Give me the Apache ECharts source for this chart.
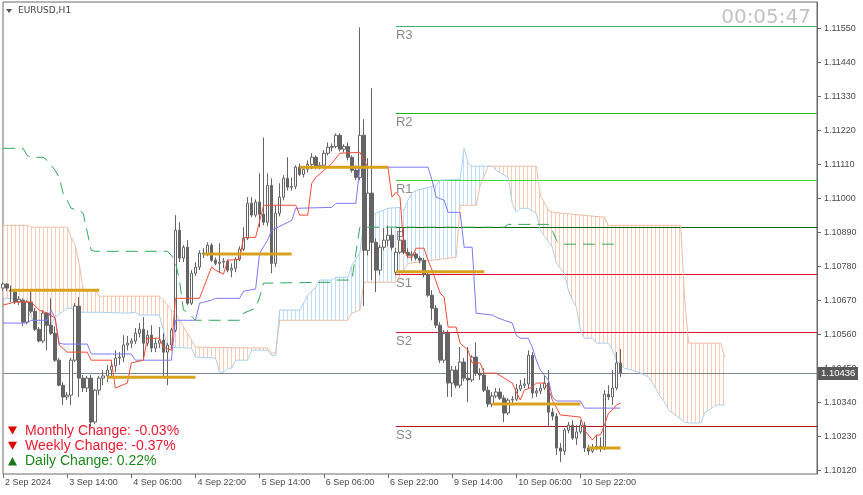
<!DOCTYPE html>
<html><head><meta charset="utf-8">
<script src="https://cdn.jsdelivr.net/npm/echarts@6/dist/echarts.min.js"></script>
<style>html,body{margin:0;padding:0;background:#fff}#c{width:863px;height:495px}</style>
</head><body><div id="c"></div>
<script>
// ---- EURUSD H1 candles (bar 0 = 2 Sep 22:00) ----
const opens = [1.10710,1.10723,1.10703,1.10697,1.10665,1.10671,1.10600,1.10665,1.10635,1.10577,
1.10539,1.10629,1.10590,1.10564,1.10477,1.10396,1.10358,1.10364,1.10477,1.10652,
1.10419,1.10387,1.10419,1.10277,1.10380,1.10419,1.10426,1.10445,1.10458,1.10484,
1.10487,1.10526,1.10532,1.10539,1.10564,1.10577,1.10532,1.10558,1.10516,1.10532,
1.10542,1.10503,1.10526,1.10574,1.10897,1.10807,1.10842,1.10661,1.10758,1.10778,
1.10823,1.10820,1.10849,1.10800,1.10790,1.10794,1.10797,1.10768,1.10774,1.10803,
1.10836,1.10871,1.10984,1.10946,1.10988,1.10949,1.10923,1.11042,1.10790,1.10952,
1.11004,1.11065,1.11036,1.11039,1.11101,1.11078,1.11094,1.11110,1.11133,1.11101,
1.11107,1.11146,1.11165,1.11168,1.11204,1.11159,1.11168,1.11133,1.11091,1.11068,
1.11204,1.10832,1.11017,1.10858,1.10768,1.10842,1.10865,1.10881,1.10761,1.10826,
1.10865,1.10826,1.10816,1.10820,1.10807,1.10800,1.10755,1.10687,1.10645,1.10590,
1.10477,1.10564,1.10403,1.10445,1.10396,1.10471,1.10419,1.10413,1.10487,1.10435,
1.10429,1.10380,1.10335,1.10361,1.10374,1.10354,1.10306,1.10348,1.10351,1.10384,
1.10396,1.10400,1.10493,1.10371,1.10377,1.10387,1.10403,1.10309,1.10296,1.10193,
1.10183,1.10251,1.10267,1.10225,1.10245,1.10267,1.10193,1.10183,1.10196,1.10199,
1.10196,1.10367,1.10358,1.10387,1.10468];
const highs = [1.10729,1.10726,1.10719,1.10707,1.10684,1.10677,1.10671,1.10703,1.10645,1.10584,
1.10639,1.10632,1.10677,1.10587,1.10484,1.10406,1.10374,1.10484,1.10661,1.10681,
1.10429,1.10426,1.10429,1.10384,1.10426,1.10445,1.10461,1.10477,1.10509,1.10503,
1.10558,1.10555,1.10548,1.10581,1.10597,1.10616,1.10574,1.10590,1.10548,1.10584,
1.10564,1.10532,1.10581,1.10946,1.10923,1.10849,1.10865,1.10768,1.10794,1.10832,
1.10839,1.10858,1.10855,1.10810,1.10855,1.10807,1.10803,1.10790,1.10810,1.10845,
1.10907,1.11004,1.11004,1.10997,1.11081,1.11197,1.11081,1.11065,1.10978,1.11049,
1.11075,1.11133,1.11068,1.11107,1.11113,1.11104,1.11123,1.11146,1.11139,1.11117,
1.11156,1.11181,1.11178,1.11210,1.11210,1.11175,1.11181,1.11139,1.11107,1.11553,
1.11256,1.11130,1.11356,1.10871,1.10849,1.10904,1.10913,1.10904,1.10839,1.10907,
1.10907,1.10839,1.10829,1.10826,1.10813,1.10807,1.10765,1.10703,1.10655,1.10600,
1.10574,1.10574,1.10458,1.10458,1.10519,1.10484,1.10519,1.10493,1.10535,1.10451,
1.10451,1.10393,1.10374,1.10387,1.10387,1.10364,1.10354,1.10361,1.10400,1.10413,
1.10419,1.10509,1.10503,1.10387,1.10400,1.10426,1.10445,1.10322,1.10306,1.10209,
1.10258,1.10277,1.10283,1.10267,1.10283,1.10277,1.10203,1.10206,1.10235,1.10228,
1.10380,1.10396,1.10445,1.10503,1.10513];
const lows = [1.10703,1.10700,1.10665,1.10658,1.10655,1.10587,1.10593,1.10629,1.10571,1.10535,
1.10532,1.10509,1.10558,1.10471,1.10393,1.10332,1.10348,1.10332,1.10471,1.10358,
1.10374,1.10374,1.10261,1.10270,1.10364,1.10396,1.10406,1.10426,1.10438,1.10461,
1.10471,1.10509,1.10516,1.10529,1.10551,1.10477,1.10522,1.10503,1.10503,1.10516,
1.10419,1.10396,1.10519,1.10568,1.10794,1.10794,1.10655,1.10655,1.10749,1.10768,
1.10807,1.10813,1.10794,1.10784,1.10758,1.10774,1.10761,1.10745,1.10761,1.10797,
1.10829,1.10865,1.10939,1.10939,1.10907,1.10913,1.10910,1.10758,1.10778,1.10942,
1.10994,1.11026,1.11026,1.11030,1.11072,1.11068,1.11084,1.11094,1.11094,1.11094,
1.11104,1.11139,1.11152,1.11162,1.11152,1.11149,1.11123,1.11084,1.11059,1.11059,
1.10652,1.10816,1.10736,1.10697,1.10752,1.10832,1.10845,1.10832,1.10752,1.10820,
1.10820,1.10807,1.10800,1.10800,1.10790,1.10745,1.10681,1.10606,1.10581,1.10468,
1.10468,1.10358,1.10358,1.10387,1.10387,1.10409,1.10342,1.10406,1.10426,1.10413,
1.10374,1.10325,1.10325,1.10354,1.10348,1.10277,1.10300,1.10338,1.10345,1.10377,
1.10387,1.10387,1.10354,1.10358,1.10367,1.10380,1.10261,1.10283,1.10170,1.10148,
1.10170,1.10241,1.10219,1.10203,1.10238,1.10180,1.10170,1.10177,1.10186,1.10180,
1.10186,1.10348,1.10332,1.10380,1.10422];
const closes = [1.10723,1.10710,1.10700,1.10665,1.10674,1.10600,1.10665,1.10635,1.10577,1.10539,
1.10629,1.10590,1.10564,1.10477,1.10396,1.10358,1.10364,1.10477,1.10652,1.10419,
1.10387,1.10419,1.10277,1.10380,1.10419,1.10426,1.10445,1.10458,1.10484,1.10487,
1.10526,1.10532,1.10539,1.10564,1.10577,1.10532,1.10558,1.10516,1.10532,1.10542,
1.10503,1.10526,1.10574,1.10897,1.10807,1.10842,1.10661,1.10758,1.10778,1.10823,
1.10820,1.10849,1.10800,1.10790,1.10794,1.10797,1.10768,1.10774,1.10803,1.10836,
1.10871,1.10984,1.10946,1.10988,1.10949,1.10923,1.11042,1.10790,1.10952,1.11004,
1.11065,1.11036,1.11039,1.11101,1.11078,1.11094,1.11110,1.11133,1.11101,1.11107,
1.11146,1.11165,1.11168,1.11204,1.11159,1.11168,1.11133,1.11091,1.11068,1.11204,
1.10832,1.11017,1.10858,1.10768,1.10842,1.10865,1.10881,1.10842,1.10826,1.10865,
1.10826,1.10816,1.10820,1.10807,1.10800,1.10755,1.10687,1.10645,1.10590,1.10477,
1.10564,1.10403,1.10445,1.10396,1.10471,1.10419,1.10413,1.10487,1.10435,1.10429,
1.10380,1.10335,1.10361,1.10374,1.10354,1.10306,1.10348,1.10351,1.10384,1.10396,
1.10400,1.10493,1.10371,1.10377,1.10387,1.10403,1.10309,1.10296,1.10193,1.10183,
1.10251,1.10267,1.10225,1.10245,1.10267,1.10193,1.10183,1.10196,1.10199,1.10196,
1.10367,1.10358,1.10387,1.10468,1.10436];

// ---- indicator lines: [bar index, price] breakpoints ----
const tenkan = [[0,1.10655],[3,1.10665],[7,1.10665],[9,1.10639],[11,1.10629],[13,1.10613],[14,1.10526],[16,1.10503],[21,1.10503],[22,1.10477],[27,1.10477],[28,1.10387],[31,1.10403],[32,1.10468],[35,1.10477],[36,1.10548],[39,1.10548],[40,1.10519],[42,1.10509],[43,1.10677],[49,1.10677],[52,1.10778],[53,1.10768],[55,1.10755],[56,1.10800],[59,1.10803],[60,1.10874],[63,1.10874],[65,1.10978],[73,1.10978],[74,1.10946],[76,1.10946],[77,1.11049],[78,1.11068],[82,1.11113],[84,1.11146],[89,1.11149],[90,1.11123],[91,1.11101],[96,1.11101],[97,1.11004],[98,1.11020],[99,1.11004],[100,1.10832],[101,1.10810],[102,1.10810],[103,1.10839],[105,1.10839],[106,1.10800],[107,1.10768],[109,1.10694],[110,1.10681],[111,1.10584],[113,1.10584],[114,1.10532],[116,1.10509],[117,1.10468],[119,1.10468],[120,1.10435],[123,1.10435],[125,1.10419],[127,1.10403],[128,1.10374],[129,1.10348],[130,1.10380],[132,1.10390],[133,1.10403],[135,1.10403],[136,1.10387],[137,1.10348],[139,1.10300],[144,1.10293],[145,1.10251],[147,1.10219],[148,1.10235],[149,1.10235],[150,1.10267],[151,1.10306],[152,1.10316],[153,1.10332],[154,1.10338]];
const kijun = [[0,1.10597],[6,1.10597],[7,1.10606],[11,1.10606],[12,1.10639],[13,1.10613],[14,1.10532],[15,1.10529],[21,1.10529],[22,1.10497],[32,1.10497],[33,1.10477],[42,1.10477],[43,1.10606],[48,1.10606],[49,1.10661],[52,1.10671],[53,1.10677],[59,1.10677],[60,1.10700],[63,1.10707],[64,1.10823],[66,1.10865],[67,1.10897],[72,1.10929],[73,1.10968],[82,1.10971],[83,1.10984],[88,1.10984],[89,1.11101],[106,1.11101],[107,1.11059],[108,1.11004],[110,1.10994],[111,1.10955],[114,1.10955],[115,1.10842],[117,1.10842],[118,1.10629],[122,1.10623],[123,1.10616],[125,1.10606],[127,1.10597],[128,1.10558],[129,1.10548],[131,1.10548],[132,1.10519],[133,1.10477],[134,1.10445],[136,1.10413],[137,1.10358],[138,1.10345],[144,1.10345],[145,1.10322],[154,1.10322]];
const greenLine = [[0,1.11162],[5,1.11162],[6,1.11139],[7,1.11133],[10,1.11133],[11,1.11123],[13,1.11091],[14,1.11068],[15,1.11017],[16,1.10994],[17,1.10968],[19,1.10962],[20,1.10952],[22,1.10832],[23,1.10829],[41,1.10829],[42,1.10816],[43,1.10794],[44,1.10736],[45,1.10639],[46,1.10632],[48,1.10606],[59,1.10606],[60,1.10629],[63,1.10645],[64,1.10681],[65,1.10726],[82,1.10729],[83,1.10736],[87,1.10736],[88,1.10823],[89,1.10907],[125,1.10907],[126,1.10916],[136,1.10916],[137,1.10897],[138,1.10865],[139,1.10852],[154,1.10852]];
const spanB = [[0,1.10913],[6,1.10913],[7,1.10907],[16,1.10907],[17,1.10874],[18,1.10849],[19,1.10790],[20,1.10703],[23,1.10703],[24,1.10684],[39,1.10684],[40,1.10671],[42,1.10639],[43,1.10629],[47,1.10542],[48,1.10519],[66,1.10516],[67,1.10500],[68,1.10500],[69,1.10606],[86,1.10606],[87,1.10629],[89,1.10639],[90,1.10729],[98,1.10729],[101,1.10790],[113,1.10810],[114,1.10978],[118,1.10978],[119,1.11042],[121,1.11104],[133,1.11104],[134,1.11010],[136,1.10962],[137,1.10955],[150,1.10939],[151,1.10913],[169,1.10913],[170,1.10671],[171,1.10532],[179,1.10532],[180,1.10487]];
const spanA = [[0,1.10677],[4,1.10677],[5,1.10661],[7,1.10616],[8,1.10600],[11,1.10590],[12,1.10590],[13,1.10616],[16,1.10645],[17,1.10645],[18,1.10632],[24,1.10632],[31,1.10629],[33,1.10632],[34,1.10623],[39,1.10623],[40,1.10574],[41,1.10519],[47,1.10516],[48,1.10487],[53,1.10484],[54,1.10438],[55,1.10438],[56,1.10451],[57,1.10451],[58,1.10477],[61,1.10477],[62,1.10509],[66,1.10509],[67,1.10493],[68,1.10493],[69,1.10639],[74,1.10639],[76,1.10687],[78,1.10713],[79,1.10736],[82,1.10736],[83,1.10745],[86,1.10745],[87,1.10784],[89,1.10823],[90,1.10929],[93,1.10952],[96,1.10968],[99,1.10971],[100,1.10962],[101,1.10994],[102,1.11017],[103,1.11026],[108,1.11042],[109,1.11059],[114,1.11062],[115,1.11162],[116,1.11113],[117,1.11104],[121,1.11104],[122,1.11104],[123,1.11091],[126,1.11068],[127,1.10984],[128,1.10955],[129,1.10968],[131,1.10968],[133,1.10952],[134,1.10897],[137,1.10842],[138,1.10790],[140,1.10758],[141,1.10703],[142,1.10671],[143,1.10648],[144,1.10574],[145,1.10548],[147,1.10548],[148,1.10532],[151,1.10532],[152,1.10509],[153,1.10477],[154,1.10461],[155,1.10451],[157,1.10445],[159,1.10435],[160,1.10429],[161,1.10422],[162,1.10403],[164,1.10358],[165,1.10342],[166,1.10316],[170,1.10277],[171,1.10274],[174,1.10274],[175,1.10306],[177,1.10325],[178,1.10332],[180,1.10332]];
const spanCross = [68, 121];

// ---- daily opens, pivots ----
const dayStartBars = [2, 26, 50, 74, 98, 122, 146];
const dayOpens = [1.10703, 1.10422, 1.10820, 1.11101, 1.10763, 1.10335, 1.10193];
const pivotNames = ['R3','R2','R1','P','S1','S2','S3'];
const pivotValues = [1.11556, 1.11277, 1.11061, 1.10908, 1.10757, 1.10567, 1.10264];
const pivotStartBar = 98;

// ---- axes ----
const tickBars = [0,16,32,48,64,80,96,112,128,144];
const tickLabels = ['2 Sep 2024','3 Sep 14:00','4 Sep 06:00','4 Sep 22:00','5 Sep 14:00','6 Sep 06:00','6 Sep 22:00','9 Sep 14:00','10 Sep 06:00','10 Sep 22:00'];
const priceTicks = [1.10120,1.10230,1.10340,1.10450,1.10560,1.10670,1.10780,1.10890,1.11000,1.11110,1.11220,1.11330,1.11440,1.11550];
const changes = [['Monthly Change: -0.03%', -1], ['Weekly Change: -0.37%', -1], ['Daily Change: 0.22%', 1]];

const NCAT = 204;
const cats = Array.from({length: NCAT}, (_, i) => String(i));
const lastClose = closes[closes.length - 1];

const pivotColors = ['#3cb56a','#18c018','#33dd33','#006400','#e0102c','#dc1438','#c0101c'];
const COL = {candle:'#646464', tenkan:'#f44b36', kijun:'#7a7af4', green:'#2ea85a', sB:'#f0bda3', sA:'#a9d0f3', gold:'#d9a21e'};

function hatch(color){
  const c = document.createElement('canvas'); c.width = 4; c.height = 4;
  const g = c.getContext('2d'); g.fillStyle = color; g.fillRect(3, 0, 1, 4);
  return {image: c, repeat: 'repeat'};
}
const hatchB = hatch('#f5cbb6');
const hatchA = hatch('#c0dcf7');

const chart = echarts.init(document.getElementById('c'), null, {renderer: 'canvas'});
const FF = 'Liberation Sans';

const candleData = opens.map((o, i) => [o, closes[i], lows[i], highs[i]]);

const option = {
  animation: false,
  backgroundColor: '#fff',
  grid: {left: 3, right: 46, top: 2, bottom: 21, show: true, borderColor: '#6a6a6a', borderWidth: 1},
  xAxis: {
    type: 'category', data: cats, boundaryGap: false,
    axisLine: {show: false},
    axisTick: {show: true, interval: (i) => tickBars.includes(i), length: 4, lineStyle: {color: '#6a6a6a'}},
    axisLabel: {interval: (i) => tickBars.includes(i), formatter: (v, i) => tickLabels[tickBars.indexOf(Number(v))] || '',
      align: 'left', margin: 4, color: '#4a4a4a', fontSize: 9, fontFamily: FF, padding: [0,0,0,2]},
    splitLine: {show: false}
  },
  yAxis: {
    type: 'value', position: 'right', min: 1.10109, max: 1.11635,
    axisLine: {show: true, lineStyle: {color: '#6a6a6a'}},
    axisTick: {show: true, length: 4, customValues: priceTicks, lineStyle: {color: '#6a6a6a'}},
    axisLabel: {customValues: priceTicks, formatter: (v) => v.toFixed(5), margin: 7, color: '#4a4a4a', fontSize: 9, fontFamily: FF},
    splitLine: {show: false}
  },
  series: [
    { // cloud hatch
      type: 'custom', z: 1, silent: true, data: [[0, 1.105]],
      renderItem: (params, api) => {
        const bounds = [0, ...spanCross, spanB[spanB.length - 1][0]];
        const children = [];
        for (let k = 0; k < bounds.length - 1; k++) {
          const s = bounds[k], e = bounds[k + 1];
          const b = spanB.filter(p => p[0] >= s && p[0] <= e);
          const a = spanA.filter(p => p[0] >= s && p[0] <= e);
          const avgB = b.reduce((t, p) => t + p[1], 0) / b.length;
          const avgA = a.reduce((t, p) => t + p[1], 0) / a.length;
          const pts = b.map(p => api.coord(p)).concat(a.map(p => api.coord(p)).reverse());
          children.push({type: 'polygon', shape: {points: pts}, style: {fill: avgB > avgA ? hatchB : hatchA, stroke: null}});
        }
        return {type: 'group', children};
      }
    },
    {type: 'line', z: 2, data: spanB, showSymbol: false, symbol: 'none', silent: true, lineStyle: {color: COL.sB, width: 1}},
    {type: 'line', z: 2, data: spanA, showSymbol: false, symbol: 'none', silent: true, lineStyle: {color: COL.sA, width: 1}},
    { // pivots
      type: 'custom', z: 2, silent: true, data: pivotValues.map((v, k) => [pivotStartBar, v, k]),
      renderItem: (params, api) => {
        const v = api.value(1), k = params.dataIndex;
        const p1 = api.coord([pivotStartBar, v]);
        const p2 = api.coord([NCAT - 1, v]);
        const y = Math.round(p1[1]) + 0.5;
        return {type: 'group', children: [
          {type: 'line', shape: {x1: p1[0], y1: y, x2: p2[0], y2: y}, style: {stroke: pivotColors[k], lineWidth: 1, fill: null}},
          {type: 'text', x: p1[0], y: y + 2, style: {text: pivotNames[k], fill: '#8a8a8a', fontSize: 13, fontFamily: FF, align: 'left', verticalAlign: 'top'}}
        ]};
      }
    },
    { // last price line + price box
      type: 'custom', z: 2, silent: true, clip: false, data: [[0, lastClose]],
      renderItem: (params, api) => {
        const v = api.value(1);
        const p1 = api.coord([0, v]);
        const p2 = api.coord([NCAT - 1, v]);
        const y = Math.round(p1[1]) + 0.5;
        return {type: 'group', children: [
          {type: 'line', shape: {x1: p1[0], y1: y, x2: p2[0], y2: y}, style: {stroke: '#7a8793', lineWidth: 1}},
          {type: 'rect', z2: 10, shape: {x: p2[0] + 1, y: y - 6.5, width: 40, height: 13}, style: {fill: '#5a5a5a'}},
          {type: 'text', z2: 11, x: p2[0] + 4, y: y, style: {text: v.toFixed(5), fill: '#ffffff', fontSize: 9.5, fontFamily: FF, verticalAlign: 'middle'}}
        ]};
      }
    },
    {
      type: 'candlestick', z: 3, data: candleData, barWidth: 3, silent: true,
      itemStyle: {color: '#ffffff', color0: COL.candle, borderColor: COL.candle, borderColor0: COL.candle, borderWidth: 1}
    },
    {type: 'line', z: 4, data: greenLine, showSymbol: false, symbol: 'none', silent: true, lineStyle: {color: COL.green, width: 1, type: [12, 7]}},
    {type: 'line', z: 4, data: kijun, showSymbol: false, symbol: 'none', silent: true, lineStyle: {color: COL.kijun, width: 1}},
    {type: 'line', z: 4, data: tenkan, showSymbol: false, symbol: 'none', silent: true, lineStyle: {color: COL.tenkan, width: 1}},
    { // daily open lines
      type: 'custom', z: 5, silent: true, data: dayStartBars.map((d, k) => [d, dayOpens[k]]),
      renderItem: (params, api) => {
        const d = api.value(0), v = api.value(1);
        const end = Math.min(d + 22, closes.length - 1);
        const p1 = api.coord([d, v]), p2 = api.coord([end, v]);
        return {type: 'line', shape: {x1: p1[0], y1: p1[1], x2: p2[0], y2: p2[1]}, style: {stroke: COL.gold, lineWidth: 3}};
      }
    }
  ],
  graphic: [
    {type: 'polygon', shape: {points: [[6, 9], [12, 9], [9, 13]]}, style: {fill: '#555'}},
    {type: 'text', x: 18, y: 11, style: {text: 'EURUSD,H1', fill: '#444', fontSize: 9, fontFamily: 'DejaVu Sans', verticalAlign: 'middle'}},
    {type: 'text', x: 811, y: 18, style: {text: '00:05:47', fill: '#c2c2c2', fontSize: 20, fontFamily: 'DejaVu Sans', align: 'right', verticalAlign: 'middle'}},
    ...changes.flatMap((c, k) => {
      const cy = 431 + k * 15.3;
      const up = c[1] > 0;
      const col = up ? '#1b8a1b' : '#ee1a30';
      const tri = up ? [[8, cy + 4], [17, cy + 4], [12.5, cy - 4.5]] : [[8, cy - 4.5], [17, cy - 4.5], [12.5, cy + 3.5]];
      return [
        {type: 'polygon', shape: {points: tri}, style: {fill: up ? '#1a7a1a' : '#e00000'}},
        {type: 'text', x: 25, y: cy, style: {text: c[0], fill: col, fontSize: 14, fontFamily: FF, verticalAlign: 'middle'}}
      ];
    })
  ]
};
chart.setOption(option);
</script>
</body></html>
